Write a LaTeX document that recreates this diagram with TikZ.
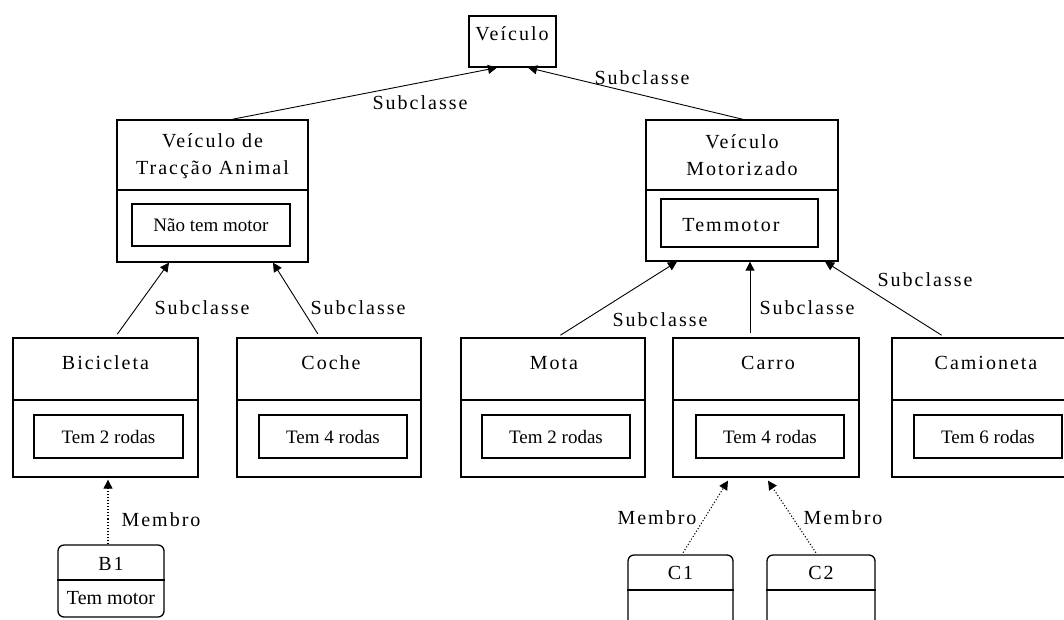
\documentclass[tikz,border=0pt]{standalone}
\usepackage{fontspec}
\setmainfont{Liberation Serif}
\newfontfamily\lblfont{Liberation Serif}[LetterSpace=10]
\usetikzlibrary{arrows.meta}
\begin{document}
\begin{tikzpicture}[x=1pt,y=-1pt,
 box/.style={draw, line width=1.3pt, inner sep=0pt},
 ibox/.style={draw, line width=1.3pt, inner sep=0pt, minimum height=43pt, minimum width=148pt, font=\fontsize{19}{22}\selectfont},
 lbl/.style={inner sep=0pt, font=\lblfont\fontsize{20}{27}\selectfont, align=center},
 thin/.style={line width=1.3pt},
 thick/.style={line width=2.6pt},
 sub/.style={line width=0.9pt, -{Triangle[length=9pt,width=9pt]}},
 mem/.style={line width=1.1pt, dotted, -{Triangle[length=9pt,width=9pt]}},
]
\useasboundingbox (0,0) rectangle (1064,619);
\clip (0,0) rectangle (1064,619);
\fill[white] (0,0) rectangle (1064,619);

% Veiculo
\node[box, minimum width=87pt, minimum height=51pt] (veic) at (512.5,41.5) {};
\node[lbl] (veicT) at (512,34) {Veículo};

% Veiculo de Traccao Animal
\node[box, minimum width=191pt, minimum height=142pt] (vta) at (212.5,191) {};
\node[lbl] (vtaT) at (212.5,156.5) {Veículo de\\Tracção Animal};
\draw[thick] (vta.west |- 0,190) -- (vta.east |- 0,190);
\node[ibox, minimum width=158pt, minimum height=42pt] (vtaA) at (211,225) {Não tem motor};

% Veiculo Motorizado
\node[box, minimum width=192pt, minimum height=141pt] (vm) at (742,190.5) {};
\node[lbl] (vmT) at (742,155) {Veículo\\Motorizado};
\draw[thick] (vm.west |- 0,190) -- (vm.east |- 0,190);
\node[box, minimum width=157pt, minimum height=48pt] (vmA) at (739.5,223) {};
\node[lbl] (vmAT) at (731,225) {Temmotor};

% Bottom row
\node[box, minimum width=185pt, minimum height=139pt] (bic) at (105.5,407.5) {};
\node[lbl] (bicT) at (105.5,363) {Bicicleta};
\draw[thin] (bic.west |- 0,400) -- (bic.east |- 0,400);
\node[ibox, minimum width=149pt] (bicA) at (108.5,436.5) {Tem 2 rodas};

\node[box, minimum width=184pt, minimum height=139pt] (coche) at (329,407.5) {};
\node[lbl] (cocheT) at (331,363) {Coche};
\draw[thin] (coche.west |- 0,400) -- (coche.east |- 0,400);
\node[ibox] (cocheA) at (333,436.5) {Tem 4 rodas};

\node[box, minimum width=184pt, minimum height=139pt] (mota) at (553,407.5) {};
\node[lbl] (motaT) at (554,363) {Mota};
\draw[thin] (mota.west |- 0,400) -- (mota.east |- 0,400);
\node[ibox] (motaA) at (556,436.5) {Tem 2 rodas};

\node[box, minimum width=186pt, minimum height=139pt] (carro) at (766,407.5) {};
\node[lbl] (carroT) at (768,363) {Carro};
\draw[thin] (carro.west |- 0,400) -- (carro.east |- 0,400);
\node[ibox] (carroA) at (770,436.5) {Tem 4 rodas};

\node[box, minimum width=185pt, minimum height=139pt] (cam) at (984.5,407.5) {};
\node[lbl] (camT) at (986,363) {Camioneta};
\draw[thin] (cam.west |- 0,400) -- (cam.east |- 0,400);
\node[ibox] (camA) at (988,436.5) {Tem 6 rodas};

% Instances
\node[box, rounded corners=6pt, minimum width=106pt, minimum height=72pt] (b1) at (111,581) {};
\draw[thin] (b1.west |- 0,580) -- (b1.east |- 0,580);
\node[lbl] (b1T) at (111,564) {B1};
\node[inner sep=0pt, font=\fontsize{20}{24}\selectfont] (b1A) at (111,598) {Tem motor};

\node[box, rounded corners=6pt, minimum width=105pt, minimum height=90pt] (c1) at (680.5,600) {};
\draw[thin] (c1.west |- 0,590) -- (c1.east |- 0,590);
\node[lbl] (c1T) at (680.5,573) {C1};

\node[box, rounded corners=6pt, minimum width=108pt, minimum height=90pt] (c2) at (821,600) {};
\draw[thin] (c2.west |- 0,590) -- (c2.east |- 0,590);
\node[lbl] (c2T) at (821,573) {C2};

% Subclass connectors
\draw[sub] ([xshift=19.5pt]vta.north) -- ([xshift=-15.5pt]veic.south);
\draw[sub] ([xshift=1pt]vm.north) -- ([xshift=15.5pt]veic.south);
\draw[sub, shorten <=4pt] ([xshift=9.5pt]bic.north) -- ([xshift=-43.5pt]vta.south);
\draw[sub, shorten <=4pt] ([xshift=-9pt]coche.north) -- ([xshift=60.5pt]vta.south);
\draw[sub, shorten <=4pt] ([xshift=4pt]mota.north) -- ([xshift=-65pt]vm.south);
\draw[sub, shorten <=4pt] ([xshift=-16pt]carro.north) -- ([xshift=8pt]vm.south);
\draw[sub, shorten <=4pt] ([xshift=-39.5pt]cam.north) -- ([xshift=83pt]vm.south);

% Member connectors
\draw[mem] ([xshift=-3pt]b1.north) -- ([xshift=2.5pt, yshift=-2pt]bic.south);
\draw[mem, shorten <=2pt] ([xshift=1.5pt]c1.north) -- ([xshift=-38pt, yshift=-3pt]carro.south);
\draw[mem, shorten <=2pt] ([xshift=-4pt]c2.north) -- ([xshift=2pt, yshift=-3pt]carro.south);

% Labels
\node[lbl] (l1) at (420,103) {Subclasse};
\node[lbl] (l2) at (642,78) {Subclasse};
\node[lbl] (l3) at (202,308) {Subclasse};
\node[lbl] (l4) at (358,308) {Subclasse};
\node[lbl] (l5) at (660,320) {Subclasse};
\node[lbl] (l6) at (807,308) {Subclasse};
\node[lbl] (l7) at (925,280) {Subclasse};
\node[lbl] (m1) at (161,520) {Membro};
\node[lbl] (m2) at (657,518) {Membro};
\node[lbl] (m3) at (843,518) {Membro};
\end{tikzpicture}
\end{document}
